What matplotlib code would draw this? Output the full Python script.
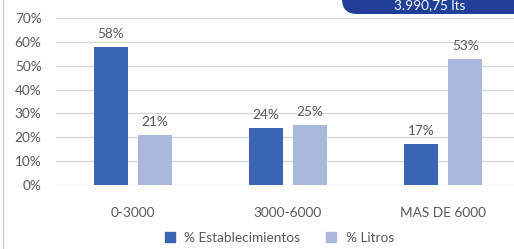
import matplotlib
matplotlib.use("Agg")
import matplotlib.pyplot as plt
from matplotlib.patches import FancyBboxPatch
from matplotlib.lines import Line2D
from matplotlib.transforms import IdentityTransform
import numpy as np

categories = ["0-3000", "3000-6000", "MAS DE 6000"]
establecimientos = [0.58, 0.24, 0.17]
litros = [0.21, 0.25, 0.53]
series_names = ["% Establecimientos", "% Litros"]
yticks = [0, 0.1, 0.2, 0.3, 0.4, 0.5, 0.6, 0.7]
badge_text = "3.990,75 lts"

DARK, LIGHT = "#3A66B3", "#A9B8DC"
BADGE = "#1F3F98"
TXT, GRID = "#595959", "#D9D9D9"
FS = 9.8
plt.rcParams["font.family"] = ["Lato", "DejaVu Sans"]

W, H = 514, 249
fig = plt.figure(figsize=(W / 100, H / 100), dpi=100)
fig.patch.set_facecolor("white")
ax = fig.add_axes([55.5 / W, (H - 185) / H, 465 / W, 167 / H])
ax.set_facecolor("none")

x = np.arange(len(categories))
bw, off = 0.222, 0.143
ax.bar(x - off, establecimientos, bw, color=DARK, zorder=3)
ax.bar(x + off, litros, bw, color=LIGHT, zorder=3)
for xi, v in zip(x - off, establecimientos):
    ax.annotate(f"{v:.0%}", (xi, v), xytext=(0, 5), textcoords="offset points",
                ha="center", va="bottom", fontsize=FS, color=TXT)
for xi, v in zip(x + off, litros):
    ax.annotate(f"{v:.0%}", (xi, v), xytext=(0, 5), textcoords="offset points",
                ha="center", va="bottom", fontsize=FS, color=TXT)

ax.set_xlim(-0.5, len(categories) - 0.5)
ax.set_ylim(0, 0.7)
ax.set_yticks(yticks)
ax.set_yticklabels([f"{t:.0%}" for t in yticks])
ax.set_xticks(x)
ax.set_xticklabels(categories)
ax.grid(axis="y", color=GRID, linewidth=1, zorder=0)
ax.tick_params(axis="y", length=0, pad=10, labelsize=FS, labelcolor=TXT)
ax.tick_params(axis="x", length=0, pad=16, labelsize=FS, labelcolor=TXT)
for s in ax.spines.values():
    s.set_visible(False)

handles = [Line2D([], [], marker="s", linestyle="", color=c, markersize=6.5)
           for c in (DARK, LIGHT)]
fig.legend(handles, series_names, loc="center", bbox_to_anchor=(275 / W, (H - 238) / H),
           ncol=2, frameon=False, fontsize=FS, labelcolor=TXT, handletextpad=0.05,
           columnspacing=1.3, borderaxespad=0)

# frame line at the left edge and the value badge at the top right (pixel coords)
fig.add_artist(Line2D([3 / W, 3 / W], [0, 1], color="#D0D0D0", linewidth=1))
fig.add_artist(FancyBboxPatch((342, H - 14), 200, 40,
                              boxstyle="round,pad=0,rounding_size=15",
                              facecolor=BADGE, edgecolor="none",
                              transform=IdentityTransform()))
fig.text(430 / W, (H - 5) / H, badge_text, color="white", fontsize=FS,
         ha="center", va="center")

fig.savefig("out.png", dpi=100, facecolor="white")
